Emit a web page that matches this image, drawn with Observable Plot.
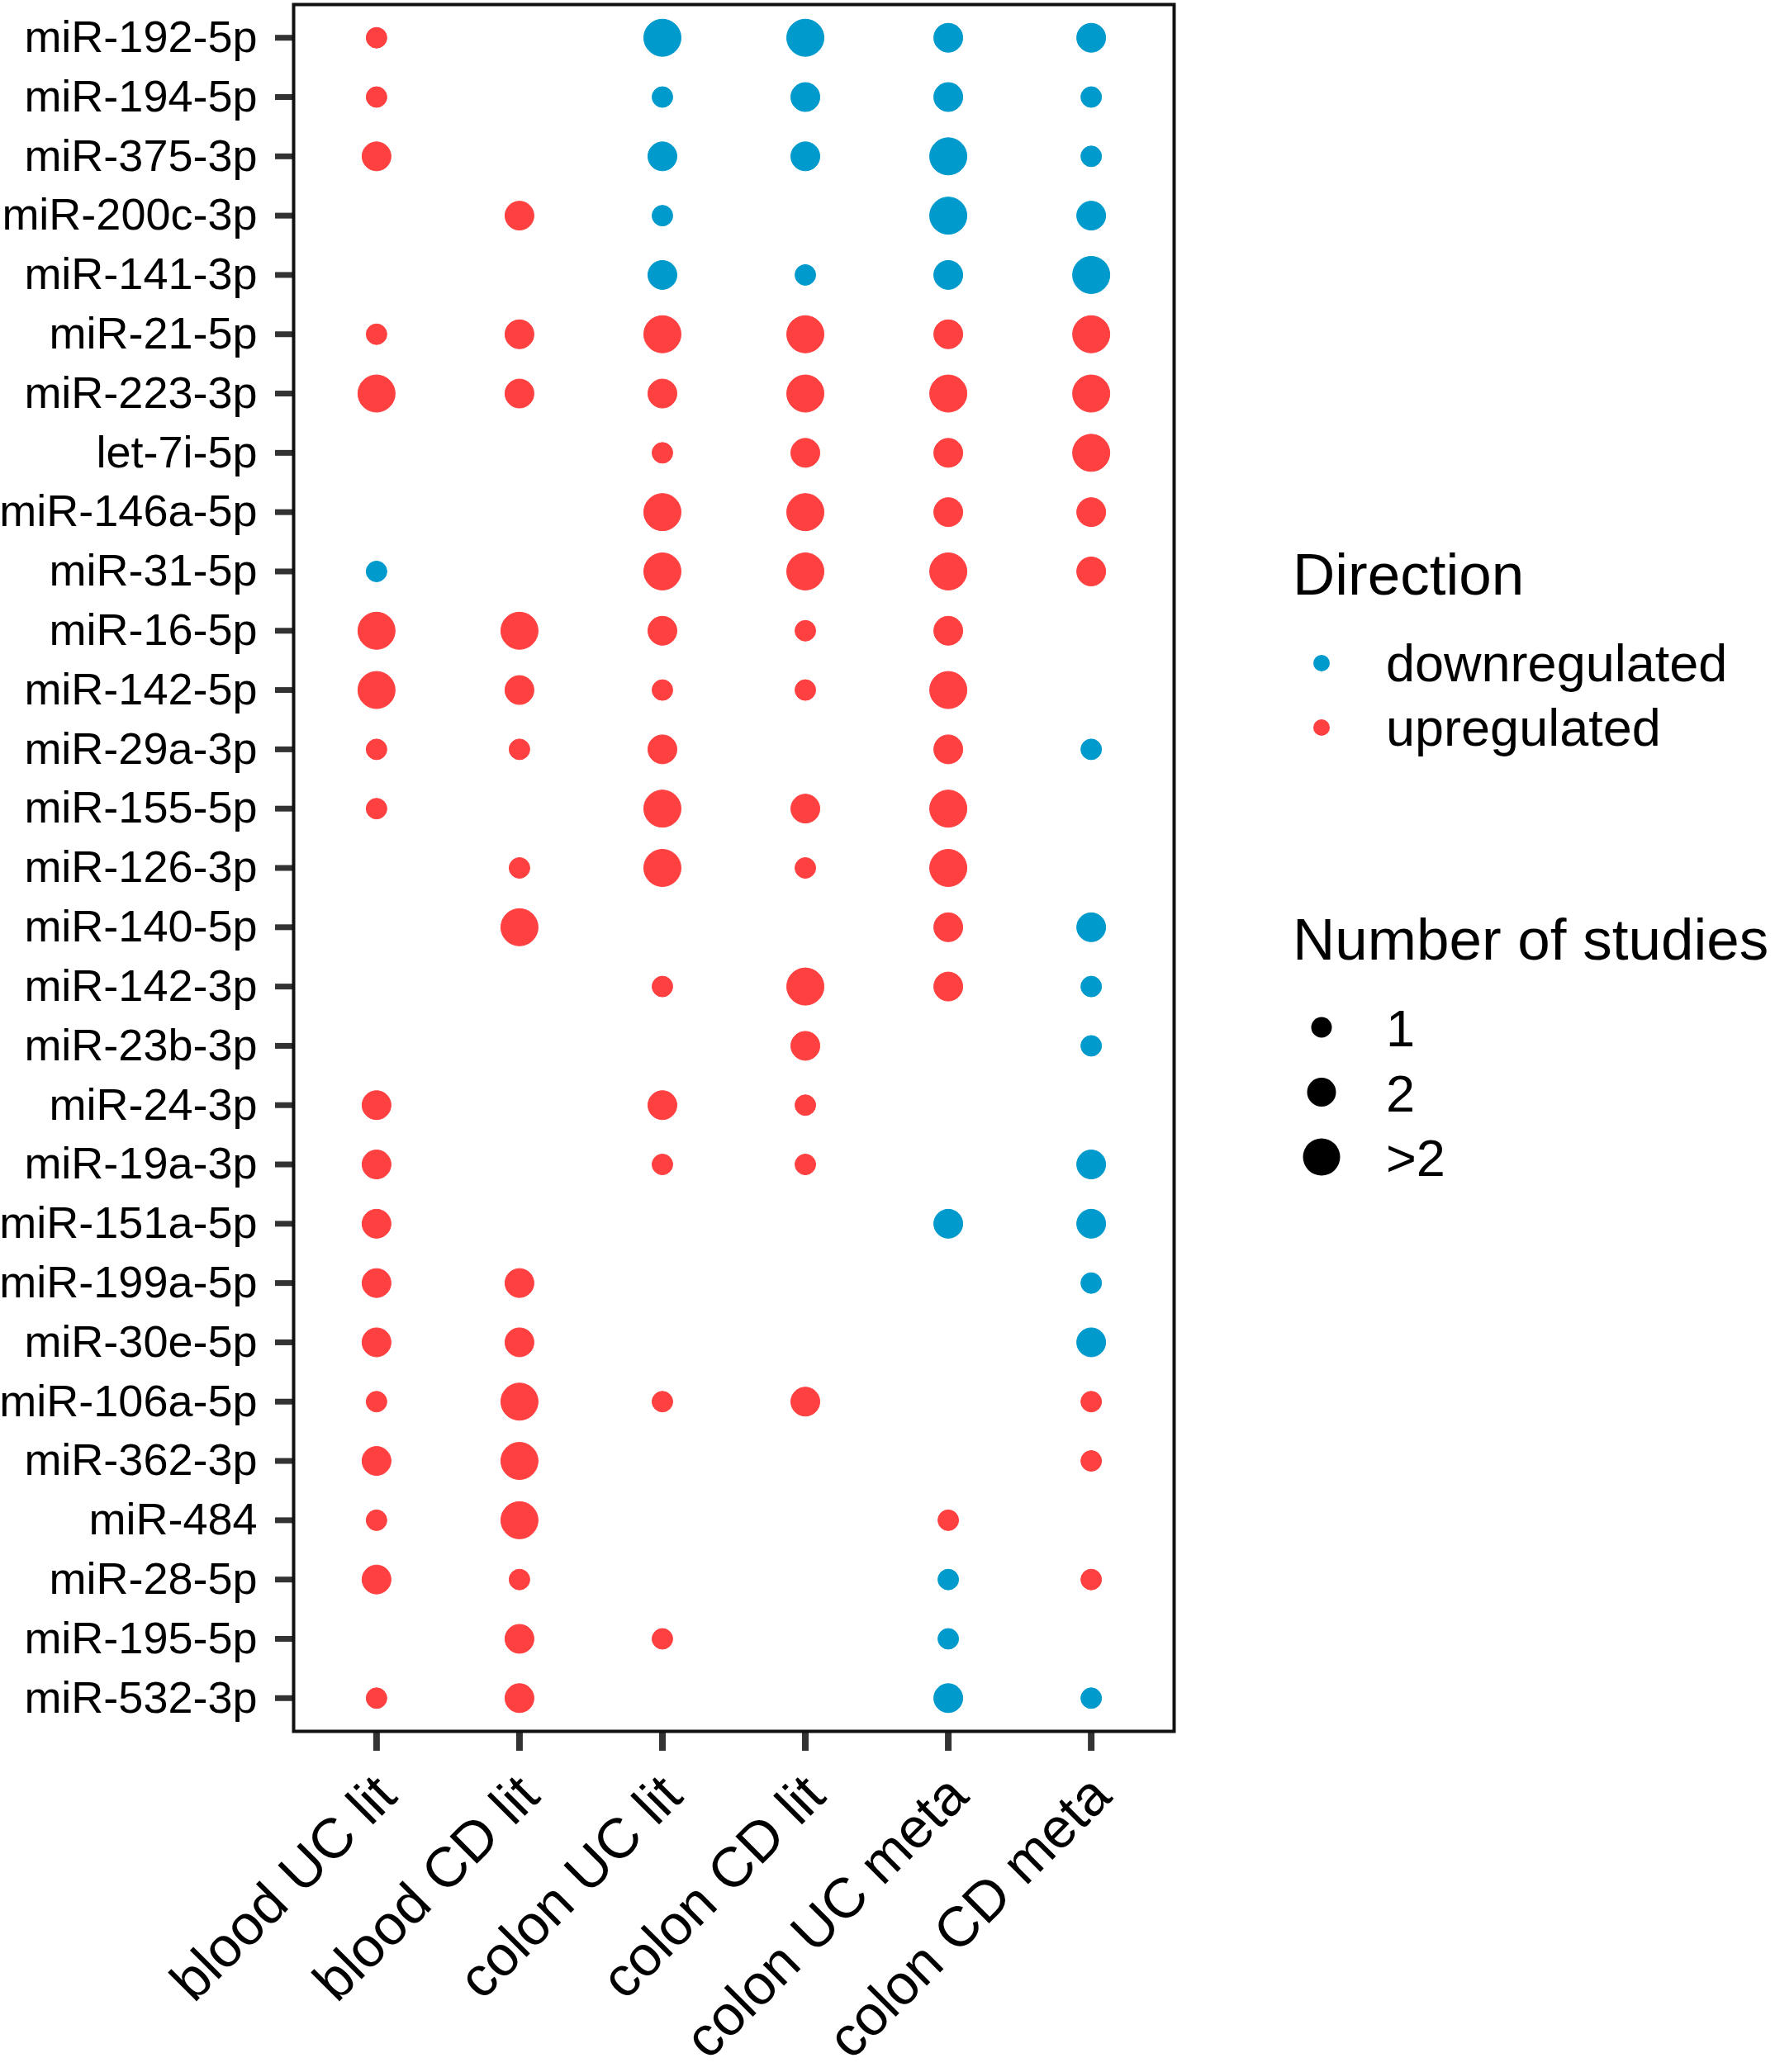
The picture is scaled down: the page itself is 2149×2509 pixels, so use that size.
<!DOCTYPE html>
<html>
<head>
<meta charset="utf-8">
<script src="https://cdn.jsdelivr.net/npm/d3@7"></script>
<script src="https://cdn.jsdelivr.net/npm/@observablehq/plot@0.6"></script>
<style>
  body { margin: 0; background: #fff; font-family: "Liberation Sans", Arial, sans-serif; }
  #wrap { position: relative; width: 2149px; height: 2509px; background: #fff; }
  #wrap > svg.legend { position: absolute; left: 1530px; top: 600px; }
</style>
</head>
<body>
<div id="wrap"></div>
<script>
// ---------- data ----------
const mirnas = [
  "miR-192-5p","miR-194-5p","miR-375-3p","miR-200c-3p","miR-141-3p","miR-21-5p",
  "miR-223-3p","let-7i-5p","miR-146a-5p","miR-31-5p","miR-16-5p","miR-142-5p",
  "miR-29a-3p","miR-155-5p","miR-126-3p","miR-140-5p","miR-142-3p","miR-23b-3p",
  "miR-24-3p","miR-19a-3p","miR-151a-5p","miR-199a-5p","miR-30e-5p","miR-106a-5p",
  "miR-362-3p","miR-484","miR-28-5p","miR-195-5p","miR-532-3p"
];
const studies = ["blood UC lit","blood CD lit","colon UC lit","colon CD lit","colon UC meta","colon CD meta"];

// value per miRNA (same order as mirnas): +n = upregulated, -n = downregulated,
// |n| = number of studies (3 stands for ">2"), 0 = not reported
const bloodUCLit   = [ 1, 1, 2, 0, 0, 1, 3, 0, 0,-1, 3, 3, 1, 1, 0, 0, 0, 0, 2, 2, 2, 2, 2, 1, 2, 1, 2, 0, 1];
const bloodCDLit   = [ 0, 0, 0, 2, 0, 2, 2, 0, 0, 0, 3, 2, 1, 0, 1, 3, 0, 0, 0, 0, 0, 2, 2, 3, 3, 3, 1, 2, 2];
const colonUCLit   = [-3,-1,-2,-1,-2, 3, 2, 1, 3, 3, 2, 1, 2, 3, 3, 0, 1, 0, 2, 1, 0, 0, 0, 1, 0, 0, 0, 1, 0];
const colonCDLit   = [-3,-2,-2, 0,-1, 3, 3, 2, 3, 3, 1, 1, 0, 2, 1, 0, 3, 2, 1, 1, 0, 0, 0, 2, 0, 0, 0, 0, 0];
const colonUCMeta  = [-2,-2,-3,-3,-2, 2, 3, 2, 2, 3, 2, 3, 2, 3, 3, 2, 2, 0, 0, 0,-2, 0, 0, 0, 0, 1,-1,-1,-2];
const colonCDMeta  = [-2,-1,-1,-2,-3, 3, 3, 3, 2, 2, 0, 0,-1, 0, 0,-2,-1,-1, 0,-2,-2,-1,-2, 1, 1, 0, 1, 0,-1];

const directionLabels = ["downregulated", "upregulated"];
const directionColors = ["#009ACD", "#FF4040"];
const sizeValues = [1, 2, 3];
const sizeLabels = ["1", "2", ">2"];

// ---------- build table ----------
const columns = [bloodUCLit, bloodCDLit, colonUCLit, colonCDLit, colonUCMeta, colonCDMeta];
const data = [];
columns.forEach((col, j) => {
  col.forEach((v, i) => {
    if (v !== 0) data.push({
      mirna: mirnas[i],
      study: studies[j],
      n: Math.abs(v),
      direction: v > 0 ? "upregulated" : "downregulated"
    });
  });
});

const FONT = "Liberation Sans, Arial, sans-serif";

const chart = Plot.plot({
  width: 2149,
  height: 2509,
  marginLeft: 355,
  marginRight: 728,
  marginTop: 5,
  marginBottom: 413,
  style: { fontFamily: FONT, background: "white", color: "black" },
  x: { type: "point", domain: studies, padding: 0.58, round: false, label: null },
  y: { type: "point", domain: mirnas, padding: 0.56, round: false, label: null },
  r: { type: "linear", domain: [1, 3], range: [12.5, 22.5] },
  color: { domain: directionLabels, range: directionColors },
  marks: [
    Plot.axisY({ tickSize: 22, tickPadding: 22, fontSize: 54, stroke: "#333", strokeWidth: 7, label: null }),
    // x tick marks only
    Plot.axisX({ tickSize: 24, tickFormat: () => "", stroke: "#333", strokeWidth: 8, label: null }),
    // x tick labels, rotated
    Plot.axisX({ tickSize: 0, tickPadding: 58, fontSize: 68, tickRotate: -45, dx: 12, dy: 8, label: null }),
    Plot.dot(data, { x: "study", y: "mirna", r: "n", fill: "direction", stroke: "direction", strokeWidth: 1 }),
    Plot.frame({ stroke: "#111", strokeWidth: 4 })
  ]
});

const wrap = document.getElementById("wrap");
wrap.appendChild(chart);

// ---------- legend (uses the chart's own scales) ----------
const rScale = chart.scale("r");
const cScale = chart.scale("color");
const lg = d3.select(wrap).append("svg")
  .attr("class", "legend")
  .attr("width", 619).attr("height", 900)
  .style("font-family", FONT);

lg.append("text").attr("x", 35).attr("y", 120).attr("font-size", 71).text("Direction");
directionLabels.forEach((d, i) => {
  const cy = 203 + i * 78;
  lg.append("circle").attr("cx", 70).attr("cy", cy).attr("r", 10)
    .attr("fill", cScale.apply(d));
  lg.append("text").attr("x", 148).attr("y", cy + 22).attr("font-size", 63).text(d);
});

lg.append("text").attr("x", 35).attr("y", 562).attr("font-size", 71).text("Number of studies");
sizeValues.forEach((v, i) => {
  const cy = 644 + i * 78.5;
  lg.append("circle").attr("cx", 70).attr("cy", cy).attr("r", rScale.apply(v)).attr("fill", "black");
  lg.append("text").attr("x", 148).attr("y", cy + 23).attr("font-size", 63).text(sizeLabels[i]);
});
</script>
</body>
</html>
